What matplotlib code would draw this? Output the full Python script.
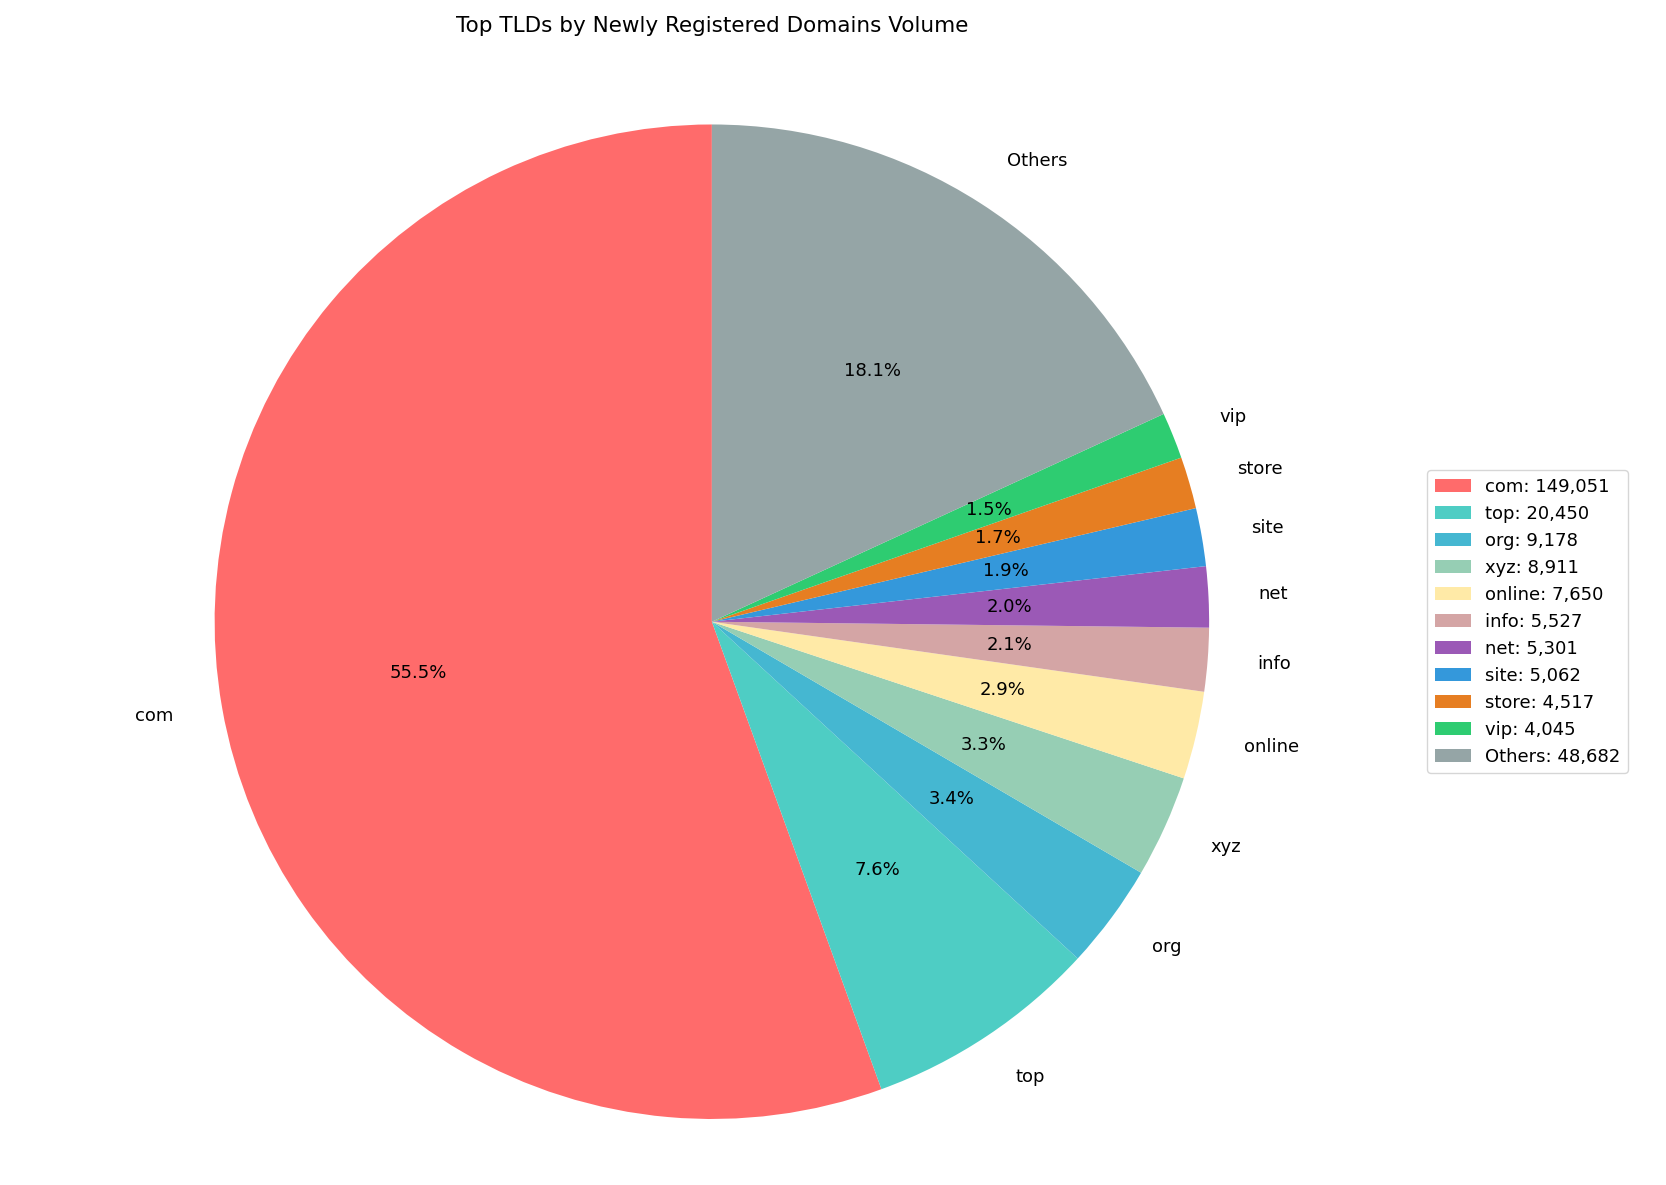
import matplotlib
matplotlib.use("Agg")
import matplotlib.pyplot as plt

tlds = ["com", "top", "org", "xyz", "online", "info", "net", "site", "store", "vip", "Others"]
counts = [149051, 20450, 9178, 8911, 7650, 5527, 5301, 5062, 4517, 4045, 48682]
colors = ["#FF6B6B", "#4ECDC4", "#45B7D1", "#96CEB4", "#FFEAA7", "#D4A5A5",
          "#9B59B6", "#3498DB", "#E67E22", "#2ECC71", "#95A5A6"]

W, H = 1568, 1115  # coordinate space of the measured reference view
cx, cy, r = 670, 585, 468

fig = plt.figure(figsize=(16.66, 11.85), dpi=100)
ax = fig.add_axes([(cx - r) / W, (H - cy - r) / H, 2 * r / W, 2 * r / H])
wedges, texts, autotexts = ax.pie(counts, labels=tlds, colors=colors, autopct="%1.1f%%",
                                  startangle=90, textprops={"fontsize": 13})
ax.set_aspect("equal")
ax.set_xlim(-1, 1)
ax.set_ylim(-1, 1)
fig.text(cx / W, 1 - 24 / H, "Top TLDs by Newly Registered Domains Volume",
         ha="center", va="center", fontsize=15.5)
fig.legend(wedges, [f"{t}: {c:,}" for t, c in zip(tlds, counts)], loc="center left",
           bbox_to_anchor=(1335 / W, 1 - 585 / H), fontsize=13)
fig.savefig("out.png", dpi=100)
